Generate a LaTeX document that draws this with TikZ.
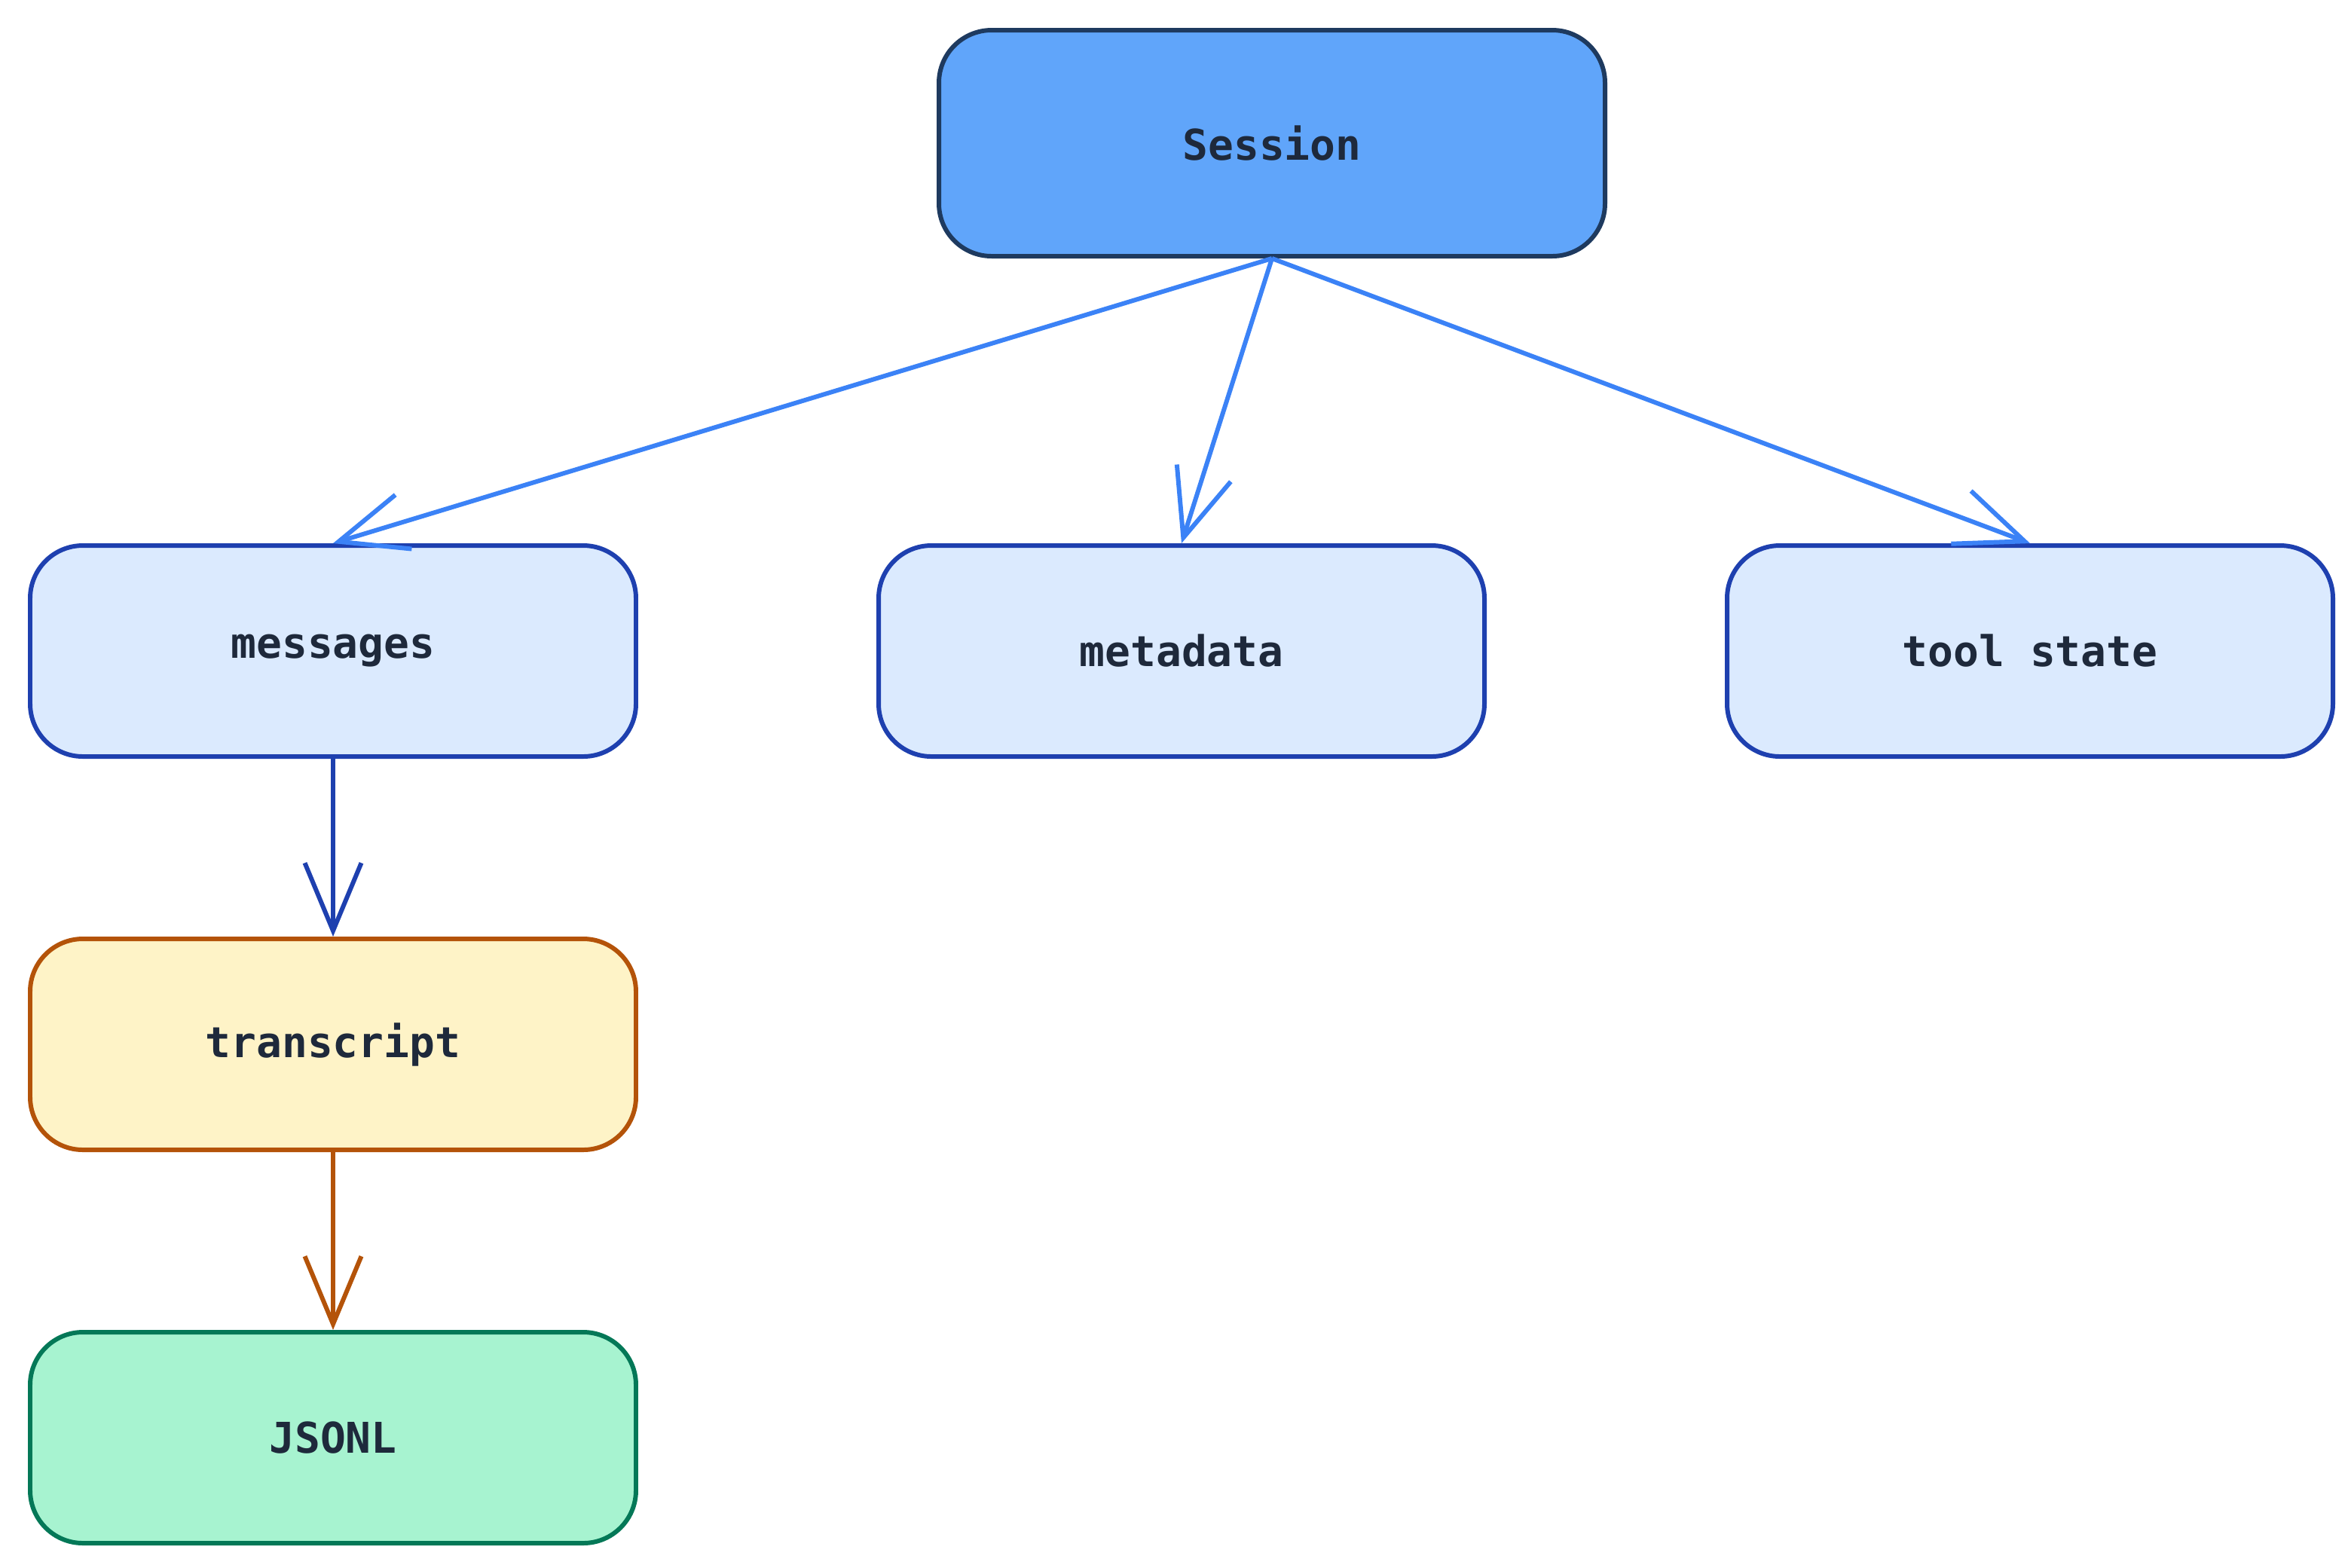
\documentclass[tikz,border=0pt]{standalone}
\usepackage{fontspec}
\setmonofont{DejaVu Sans Mono}
\usetikzlibrary{arrows.meta,positioning}
\definecolor{sessfill}{HTML}{60A5FA}
\definecolor{sessdraw}{HTML}{1E3A5F}
\definecolor{partfill}{HTML}{DBEAFE}
\definecolor{partdraw}{HTML}{1E40AF}
\definecolor{linkblue}{HTML}{3B82F6}
\definecolor{transfill}{HTML}{FEF3C7}
\definecolor{transdraw}{HTML}{B45309}
\definecolor{jsonfill}{HTML}{A7F3D0}
\definecolor{jsondraw}{HTML}{047857}
\definecolor{txt}{HTML}{1E293B}

\begin{document}
\begin{tikzpicture}[
    box/.style={rounded corners=0.7cm, line width=1.7pt, minimum width=8.04cm,
      minimum height=2.8cm, font=\ttfamily\bfseries\fontsize{16}{19}\selectfont, text=txt},
    link/.style={line width=1.7pt, -{Straight Barb[length=0.9cm,width=0.75cm,line width=1.7pt]}}
  ]
    \useasboundingbox (0,0) rectangle (31.2,-20.8);

    % draw nodes
    \node[box, fill=sessfill, draw=sessdraw, minimum width=8.84cm, minimum height=3cm] (session) at (16.88,-1.9) {Session};
    \node[box, fill=partfill, draw=partdraw] (messages) at (4.42,-8.64) {messages};
    \node[box, fill=partfill, draw=partdraw] (metadata) at (15.68,-8.64) {metadata};
    \node[box, fill=partfill, draw=partdraw] (toolstate) at (26.94,-8.64) {tool state};
    \node[box, fill=transfill, draw=transdraw] (transcript) at (4.42,-13.86) {transcript};
    \node[box, fill=jsonfill, draw=jsondraw] (jsonl) at (4.42,-19.08) {JSONL};

    % draw links
    \foreach \n in {messages,metadata,toolstate}
      \draw[link, linkblue] (session.south) -- (\n.north);
    \draw[link, partdraw] (messages) -- (transcript);
    \draw[link, transdraw] (transcript) -- (jsonl);
\end{tikzpicture}
\end{document}
